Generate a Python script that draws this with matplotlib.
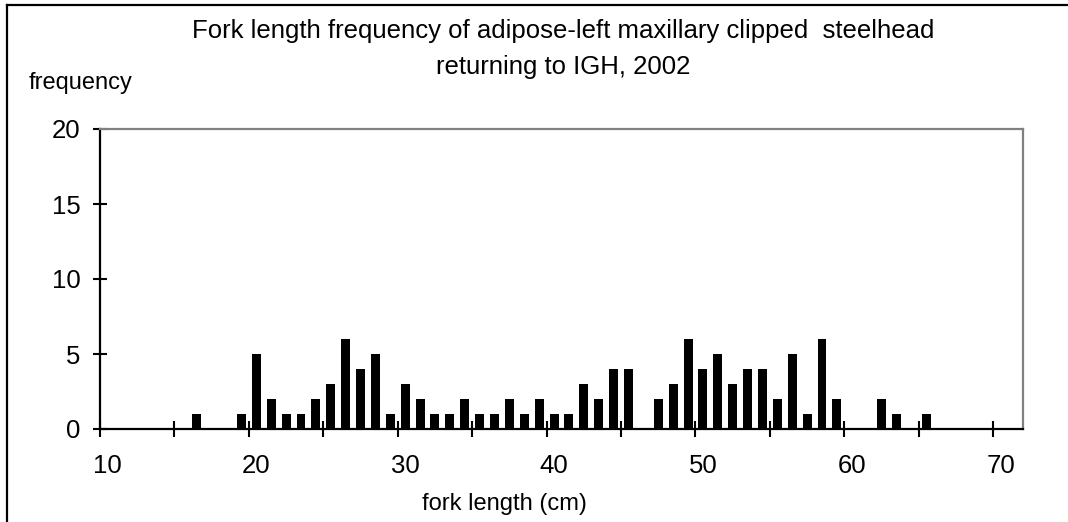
import matplotlib
matplotlib.use("Agg")
import matplotlib.pyplot as plt
from matplotlib.lines import Line2D

# data
lengths = [16, 19, 20, 21, 22, 23, 24, 25, 26, 27, 28, 29, 30, 31, 32, 33, 34,
           35, 36, 37, 38, 39, 40, 41, 42, 43, 44, 45, 47, 48, 49, 50, 51, 52,
           53, 54, 55, 56, 57, 58, 59, 62, 63, 65]
counts = [1, 1, 5, 2, 1, 1, 2, 3, 6, 4, 5, 1, 3, 2, 1, 1, 2,
          1, 1, 2, 1, 2, 1, 1, 3, 2, 4, 4, 2, 3, 6, 4, 5, 3,
          4, 4, 2, 5, 1, 6, 2, 2, 1, 1]
x_labels = [10, 20, 30, 40, 50, 60, 70]
x_marks = [10, 15, 20, 25, 30, 35, 40, 45, 50, 55, 60, 65, 70]
y_ticks = [0, 5, 10, 15, 20]

title = "Fork length frequency of adipose-left maxillary clipped  steelhead\nreturning to IGH, 2002"

plt.rcParams['font.family'] = ['Liberation Sans', 'DejaVu Sans']
FS = 18.5   # title and tick labels
FS_AX = 17  # axis captions

W, H = 1068, 522
fig = plt.figure(figsize=(W / 100, H / 100), dpi=100)
ax = fig.add_axes([100 / W, 1 - 429 / H, (1023 - 100) / W, (429 - 129) / H])

ax.bar(lengths, counts, width=0.6, color='black')

ax.set_xlim(9.5, 71.5)
ax.set_ylim(0, 20)

# tick marks sit between categories, labels under the categories
ax.set_xticks([v - 0.5 for v in x_marks])
ax.set_xticklabels([])
ax.set_xticks(x_labels, minor=True)
ax.set_xticklabels([str(v) for v in x_labels], minor=True, fontsize=FS)
ax.tick_params(axis='x', which='major', direction='inout', length=11, width=1.5)
ax.tick_params(axis='x', which='minor', length=0, pad=18)

ax.set_yticks(y_ticks)
ax.set_yticklabels([str(v) for v in y_ticks], fontsize=FS)
ax.tick_params(axis='y', direction='inout', length=10, width=1.5, pad=9)

for s in ['left', 'bottom']:
    ax.spines[s].set_color('black')
    ax.spines[s].set_linewidth(1.6)
for s in ['top', 'right']:
    ax.spines[s].set_color('#808080')
    ax.spines[s].set_linewidth(1.6)

fig.text(563 / W, 1 - 49 / H, title, ha='center', va='center', fontsize=FS,
         linespacing=1.6)
fig.text(29 / W, 1 - 83 / H, "frequency", ha='left', va='center', fontsize=FS_AX)
fig.text(504 / W, 1 - 504 / H, "fork length (cm)", ha='center', va='center',
         fontsize=FS_AX)

# outer chart frame (only left and top edges are visible)
fig.add_artist(Line2D([7 / W, 7 / W], [0, 1 - 5 / H], transform=fig.transFigure,
                      color='black', lw=1.6))
fig.add_artist(Line2D([7 / W, 1], [1 - 5 / H, 1 - 5 / H], transform=fig.transFigure,
                      color='black', lw=1.6))

fig.savefig("out.png", dpi=100)
